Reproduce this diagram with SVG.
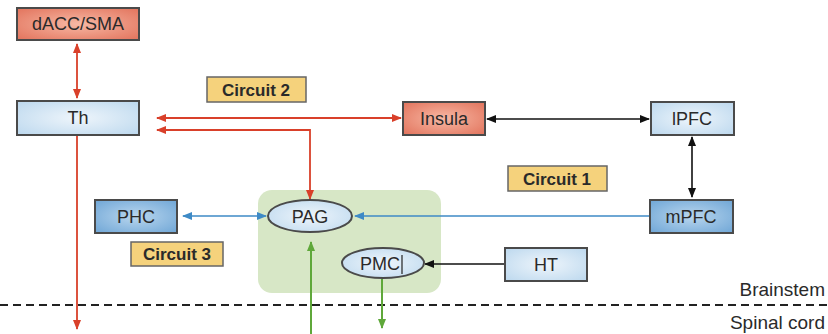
<svg xmlns="http://www.w3.org/2000/svg" width="828" height="334" viewBox="0 0 828 334">
<defs>
<radialGradient id="gRed" cx="50%" cy="50%" r="70%"><stop offset="0" stop-color="#f7b8a4"/><stop offset="1" stop-color="#e2735c"/></radialGradient>
<radialGradient id="gLight" cx="50%" cy="50%" r="70%"><stop offset="0" stop-color="#eef5fb"/><stop offset="1" stop-color="#bcd8ee"/></radialGradient>
<radialGradient id="gDark" cx="50%" cy="50%" r="70%"><stop offset="0" stop-color="#b9d6ee"/><stop offset="1" stop-color="#6fa6d6"/></radialGradient>
<marker id="aRed" viewBox="0 0 10 10" refX="9" refY="5" markerWidth="12" markerHeight="10" orient="auto-start-reverse" markerUnits="userSpaceOnUse"><path d="M0,1 L10,5 L0,9 z" fill="#d9402a"/></marker>
<marker id="aBlack" viewBox="0 0 10 10" refX="9" refY="5" markerWidth="12" markerHeight="10" orient="auto-start-reverse" markerUnits="userSpaceOnUse"><path d="M0,1 L10,5 L0,9 z" fill="#111"/></marker>
<marker id="aBlue" viewBox="0 0 10 10" refX="9" refY="5" markerWidth="12" markerHeight="10" orient="auto-start-reverse" markerUnits="userSpaceOnUse"><path d="M0,1 L10,5 L0,9 z" fill="#3e8ac6"/></marker>
<marker id="aGreen" viewBox="0 0 10 10" refX="9" refY="5" markerWidth="12" markerHeight="10" orient="auto-start-reverse" markerUnits="userSpaceOnUse"><path d="M0,1 L10,5 L0,9 z" fill="#5fa83a"/></marker>
</defs>
<style>
text{font-family:"Liberation Sans",Arial,sans-serif;font-size:18px;fill:#2a2a2a;text-anchor:middle;dominant-baseline:central}
.box{stroke:#4a4a4a;stroke-width:2}
.red{fill:url(#gRed)}
.light{fill:url(#gLight)}
.dark{fill:url(#gDark)}
.circ{fill:#f5d27c;stroke:#666;stroke-width:1.5}
.circ-t{font-weight:bold;font-size:17px}
.lr{stroke:#d9402a;stroke-width:1.8;fill:none}
.lk{stroke:#111;stroke-width:1.6;fill:none}
.lb{stroke:#3e8ac6;stroke-width:1.6;fill:none}
.lg{stroke:#5fa83a;stroke-width:2;fill:none}
.side{text-anchor:end;font-size:19px}
</style>
<rect x="258" y="190" width="183" height="103" rx="14" fill="#d7e7c6"/>
<line x1="0" y1="305" x2="828" y2="305" stroke="#222" stroke-width="2" stroke-dasharray="8,5"/>
<text class="side" x="825" y="289">Brainstem</text>
<text class="side" x="825" y="322">Spinal cord</text>
<g id="connectors">
<line class="lr" x1="77" y1="44" x2="77" y2="98" marker-start="url(#aRed)" marker-end="url(#aRed)"/>
<line class="lr" x1="77" y1="135" x2="77" y2="329" marker-end="url(#aRed)"/>
<line class="lr" x1="157" y1="118" x2="401" y2="118" marker-start="url(#aRed)" marker-end="url(#aRed)"/>
<polyline class="lr" points="157,130 310,130 310,199" marker-start="url(#aRed)" marker-end="url(#aRed)"/>
<line class="lk" x1="487" y1="119" x2="649" y2="119" marker-start="url(#aBlack)" marker-end="url(#aBlack)"/>
<line class="lk" x1="692" y1="137" x2="692" y2="197" marker-start="url(#aBlack)" marker-end="url(#aBlack)"/>
<line class="lk" x1="505" y1="264" x2="425" y2="264" marker-end="url(#aBlack)"/>
<line class="lb" x1="650" y1="216" x2="355" y2="216" marker-end="url(#aBlue)"/>
<line class="lb" x1="183" y1="216" x2="266" y2="216" marker-start="url(#aBlue)" marker-end="url(#aBlue)"/>
<line class="lg" x1="311" y1="334" x2="311" y2="242" marker-end="url(#aGreen)"/>
<line class="lg" x1="382" y1="279" x2="382" y2="328" marker-end="url(#aGreen)"/>
</g>
<g id="dACC"><rect class="box red" x="17" y="8" width="122" height="32"/><text x="78" y="24">dACC/SMA</text></g>
<g id="Th"><rect class="box light" x="17" y="101" width="122" height="34"/><text x="78" y="118">Th</text></g>
<g id="Insula"><rect class="box red" x="403" y="102" width="82" height="33"/><text x="444" y="119">Insula</text></g>
<g id="lPFC"><rect class="box light" x="651" y="102" width="83" height="33"/><text x="692" y="119">lPFC</text></g>
<g id="mPFC"><rect class="box dark" x="650" y="200" width="83" height="33"/><text x="691" y="217">mPFC</text></g>
<g id="PHC"><rect class="box dark" x="95" y="200" width="82" height="33"/><text x="136" y="217">PHC</text></g>
<g id="HT"><rect class="box light" x="505" y="248" width="82" height="33"/><text x="546" y="265">HT</text></g>
<g id="PAG"><ellipse class="box light" cx="310" cy="216" rx="42" ry="16"/><text x="310" y="217">PAG</text></g>
<g id="PMC"><ellipse class="box light" cx="383" cy="263" rx="41" ry="15"/><text x="380" y="264">PMC</text><line x1="402" y1="255" x2="402" y2="274" stroke="#222" stroke-width="1.2"/></g>
<g id="circuit2"><rect class="circ" x="207" y="77" width="99" height="25"/><text class="circ-t" x="256" y="90">Circuit 2</text></g>
<g id="circuit1"><rect class="circ" x="508" y="166" width="99" height="25"/><text class="circ-t" x="557" y="179">Circuit 1</text></g>
<g id="circuit3"><rect class="circ" x="131" y="242" width="92" height="24"/><text class="circ-t" x="177" y="254">Circuit 3</text></g>
</svg>
